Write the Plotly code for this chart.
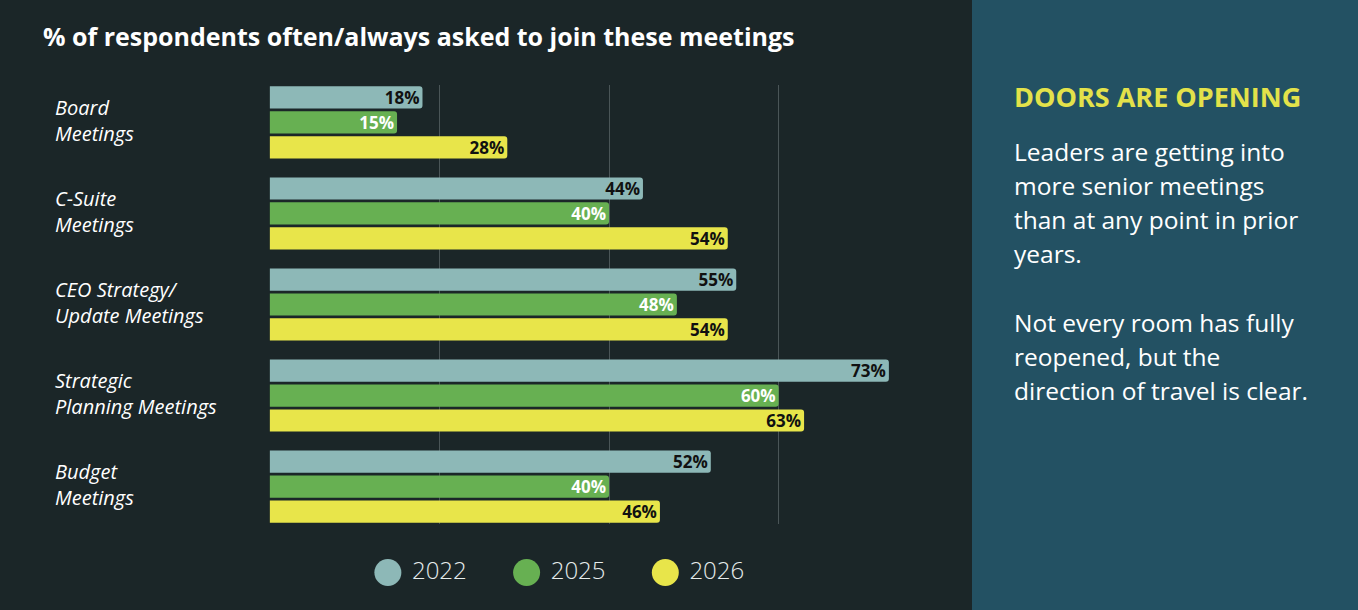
import plotly.graph_objects as go

# data
meetings = ["Board Meetings", "C-Suite Meetings", "CEO Strategy/ Update Meetings",
            "Strategic Planning Meetings", "Budget Meetings"]
meeting_labels = ["Board<br>Meetings", "C-Suite<br>Meetings", "CEO Strategy/<br>Update Meetings",
                  "Strategic<br>Planning Meetings", "Budget<br>Meetings"]
years = ["2022", "2025", "2026"]
values_2022 = [18, 44, 55, 73, 52]
values_2025 = [15, 40, 48, 60, 40]
values_2026 = [28, 54, 54, 63, 46]

title_text = "% of respondents often/always asked to join these meetings"
side_heading = "DOORS ARE OPENING"
side_lines = ["Leaders are getting into", "more senior meetings", "than at any point in prior",
              "years.", "", "Not every room has fully", "reopened, but the",
              "direction of travel is clear."]

W, H = 1358, 610
BG = "#1b2628"
PANEL = "#235163"
colors = {"2022": "#8db8b7", "2025": "#67b052", "2026": "#e8e54a"}
label_colors = {"2022": "#111111", "2025": "#ffffff", "2026": "#111111"}
FONT = "Open Sans"

fig = go.Figure()

series = {"2022": values_2022, "2025": values_2025, "2026": values_2026}
for yr in years:
    fig.add_trace(go.Bar(
        y=meetings, x=series[yr], orientation="h", name=yr,
        marker=dict(color=colors[yr], line=dict(width=0)),
        text=[f"{v}%" for v in series[yr]],
        textposition="inside", insidetextanchor="end", constraintext="none",
        textfont=dict(family=FONT, size=17, color=label_colors[yr], weight="bold"),
        showlegend=False, hoverinfo="skip",
    ))

# legend drawn as points on its own small axis so circles can be large
fig.add_trace(go.Scatter(
    x=years, y=[0, 0, 0], xaxis="x2", yaxis="y2", mode="markers+text",
    marker=dict(size=27, color=[colors[y] for y in years]),
    text=[" " + y for y in years], textposition="middle right",
    textfont=dict(family=FONT, size=24, color="#e6ecec", weight=300),
    showlegend=False, hoverinfo="skip", cliponaxis=False,
))

fig.update_layout(
    width=W, height=H,
    margin=dict(l=0, r=0, t=0, b=0),
    paper_bgcolor=BG, plot_bgcolor=BG,
    barmode="group", bargap=0.176, bargroupgap=0.11,
    barcornerradius=3,
    xaxis=dict(domain=[269 / W, 944 / W], range=[-0.1, 79.5], tick0=0, dtick=20,
               showgrid=True, gridcolor="#4a5557", gridwidth=1,
               zeroline=False, showticklabels=False, fixedrange=True),
    yaxis=dict(domain=[1 - 524 / H, 1 - 85 / H], autorange=False,
               range=[4.412, -0.412], showticklabels=False, showgrid=False,
               zeroline=False, fixedrange=True),
    xaxis2=dict(domain=[374 / W, 700 / W], range=[-0.1, 2.25], anchor="y2",
                visible=False, type="category"),
    yaxis2=dict(domain=[1 - 590 / H, 1 - 555 / H], range=[-1, 1], anchor="x2",
                visible=False),
    font=dict(family=FONT, color="#ffffff"),
    shapes=[dict(type="rect", xref="paper", yref="paper", x0=972 / W, x1=1, y0=0, y1=1,
                 fillcolor=PANEL, line=dict(width=0), layer="below")],
)

annotations = [dict(text=f"<b>{title_text}</b>", xref="paper", yref="paper",
                    x=41 / W, y=1 - 36 / H, xanchor="left", yanchor="middle",
                    showarrow=False, font=dict(family=FONT, size=25, color="#ffffff"))]

# category labels, left aligned at the panel edge
for m, lab in zip(meetings, meeting_labels):
    annotations.append(dict(text=lab, xref="paper", yref="y", x=53 / W, y=m,
                            xanchor="left", yanchor="middle", align="left",
                            showarrow=False, yshift=2,
                            font=dict(family=FONT, size=20, color="#ffffff",
                                      style="italic")))

annotations.append(dict(text=f"<b>{side_heading}</b>", xref="paper", yref="paper",
                        x=1012 / W, y=1 - 96 / H, xanchor="left", yanchor="middle",
                        showarrow=False,
                        font=dict(family=FONT, size=27, color="#e3e24a")))
for i, line in enumerate(side_lines):
    if not line:
        continue
    annotations.append(dict(text=line, xref="paper", yref="paper",
                            x=1012 / W, y=1 - (151 + 34.2 * i) / H, xanchor="left",
                            yanchor="middle", showarrow=False,
                            font=dict(family=FONT, size=24.5, color="#ffffff")))

fig.update_layout(annotations=annotations)

fig.write_html("out.html", config={"displayModeBar": False},
               post_script="document.body.style.margin='0px';")
